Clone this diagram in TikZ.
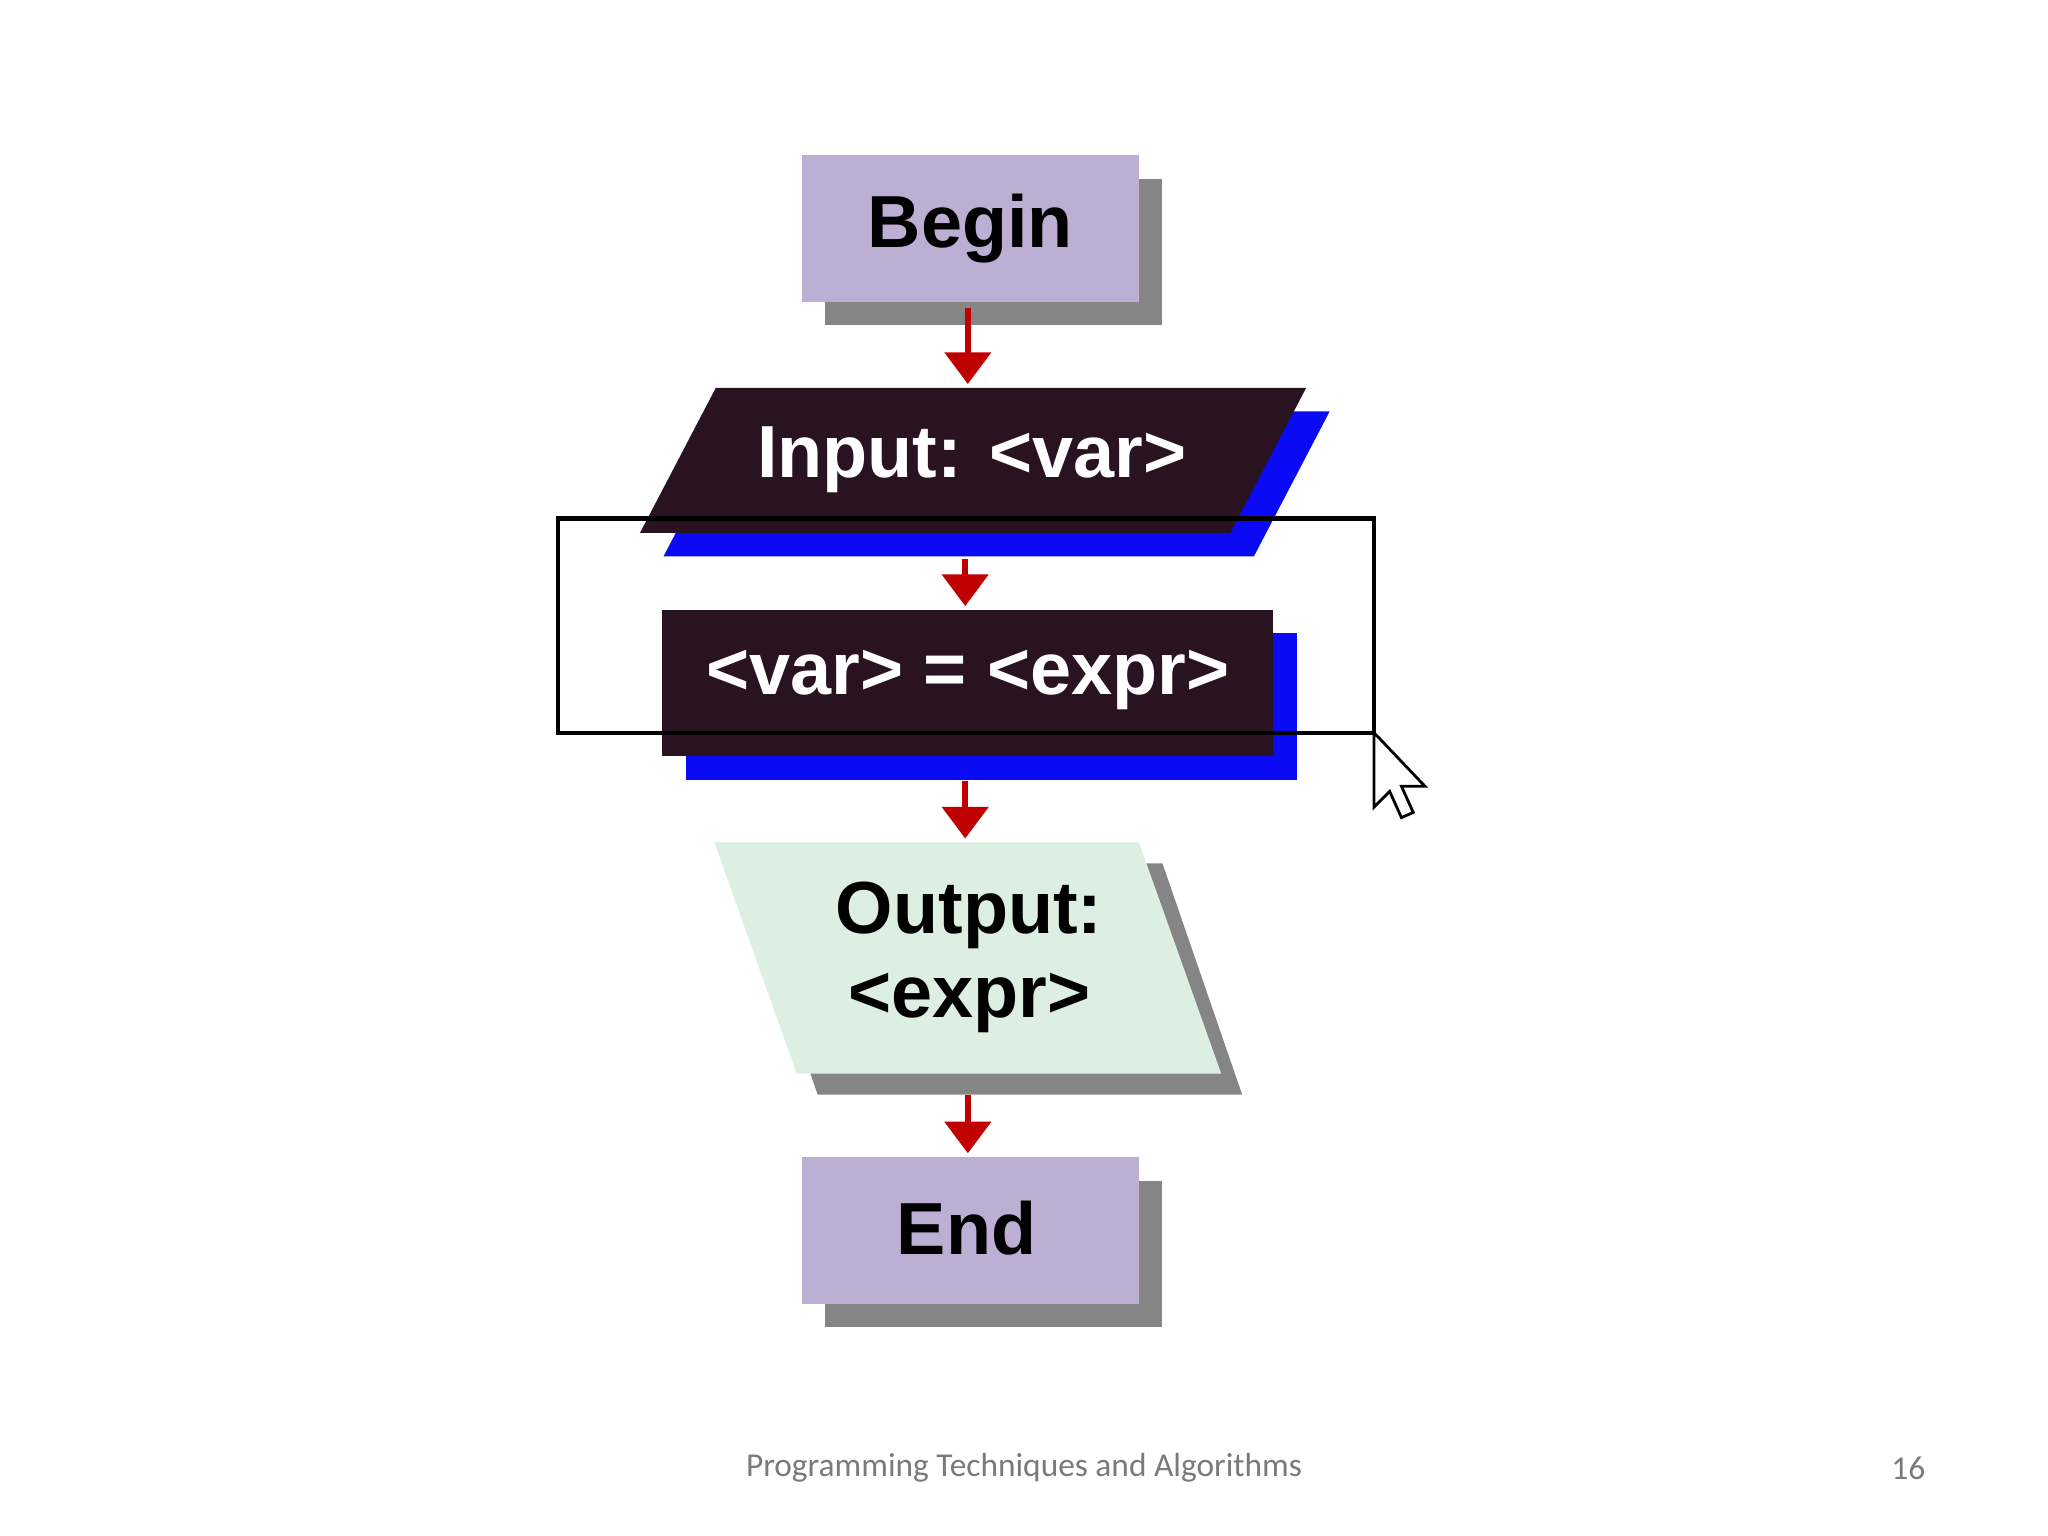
\documentclass[tikz,border=0pt]{standalone}
\usepackage{fontspec}
\setmainfont{Liberation Sans}
\newfontfamily\footfont{Carlito}
\usetikzlibrary{arrows.meta, positioning}
\definecolor{lavender}{HTML}{BDAED3}
\definecolor{dropgrey}{HTML}{858585}
\definecolor{ink}{HTML}{2A1320}
\definecolor{royal}{HTML}{0A0AF5}
\definecolor{mint}{HTML}{DCEFE2}
\definecolor{flowred}{HTML}{C00000}
\definecolor{muted}{HTML}{7A7A7A}
\tikzset{
  label/.style={font=\fontsize{21}{26}\selectfont\bfseries, align=center},
  flow/.style={-{Triangle[width=13pt, length=9pt]}, line width=1.6pt, draw=flowred},
}
\begin{document}
\begin{tikzpicture}[x=0.013061cm, y=-0.013061cm]
  \useasboundingbox (0,0) rectangle (1568,1176);

  %% -- Begin --------------------------------------------------------------
  \fill[dropgrey] (632,137) rectangle (890,249);
  \fill[lavender] (614,119) rectangle (872,231);
  \node[label] (begin) at (743,175) {Begin};
  \coordinate (beginS) at (741,236);

  %% -- Input parallelogram ----------------------------------------------------
  \fill[royal] (566,315) -- (1018,315) -- (960,426) -- (508,426) -- cycle;
  \fill[ink]   (548,297) -- (1000,297) -- (942,408) -- (490,408) -- cycle;
  \node[label, white] (input) at (744,352) {Input: <var>};
  \coordinate (inputN) at (741,294);
  \coordinate (inputS) at (739,428);

  %% -- Assignment ---------------------------------------------------------
  \fill[royal] (525,485) rectangle (993,597);
  \fill[ink]   (507,467) rectangle (975,579);
  \node[label, white] (assign) at (741,521) {<var> = <expr>};
  \coordinate (assignN) at (739,464);
  \coordinate (assignS) at (739,598);

  %% -- Selection frame ----------------------------------------------------
  \draw[line width=1.2pt] (427,397) rectangle (1052,561);

  %% -- Output parallelogram ---------------------------------------------------
  \fill[dropgrey] (565,661) -- (890,661) -- (951,838) -- (626,838) -- cycle;
  \fill[mint]  (547,645) -- (872,645) -- (935,822) -- (610,822) -- cycle;
  \node[label] (output) at (742,733) {Output:\\[-2pt]<expr>};
  \coordinate (outputN) at (739,642);
  \coordinate (outputS) at (741,838);

  %% -- End ----------------------------------------------------------------
  \fill[dropgrey] (632,904) rectangle (890,1016);
  \fill[lavender] (614,886) rectangle (872,998);
  \node[label] (end) at (740,940) {End};
  \coordinate (endN) at (741,883);

  %% -- Connectors ---------------------------------------------------------
  \draw[flow] (beginS) -- (inputN);
  \draw[flow] (inputS) -- (assignN);
  \draw[flow] (assignS) -- (outputN);
  \draw[flow] (outputS) -- (endN);

  %% -- Mouse pointer ------------------------------------------------------
  \draw[fill=white, line width=0.8pt] (1052,561) -- (1052,618) -- (1064,606)
    -- (1073,626) -- (1082,622) -- (1073,602) -- (1091,602) -- cycle;

  %% -- Footer -------------------------------------------------------------
  \node[font=\footfont\fontsize{9.5}{11}\selectfont, muted] (title) at (784,1124)
    {Programming Techniques and Algorithms};
  \node[font=\footfont\fontsize{9.5}{11}\selectfont, muted] (page) at (1461,1124) {16};
\end{tikzpicture}
\end{document}
